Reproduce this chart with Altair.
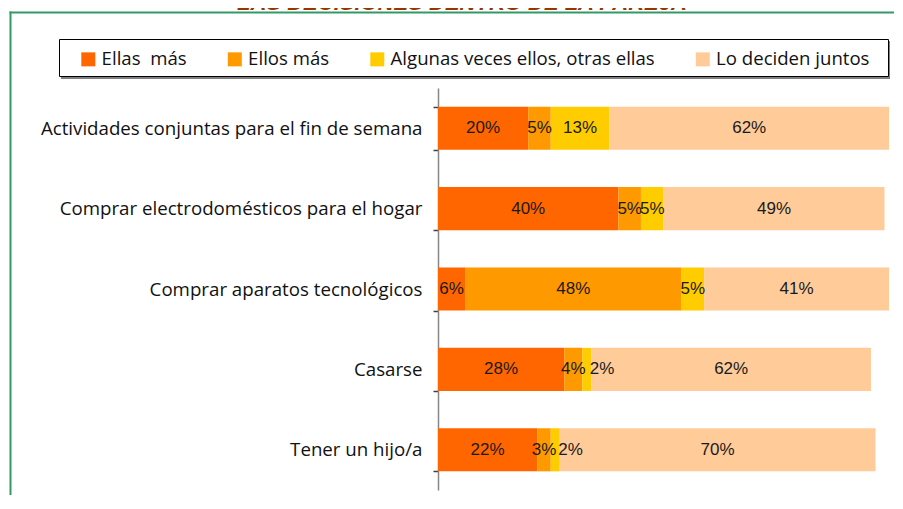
import altair as alt
import pandas as pd

# ---------------- data ----------------
title_text = "LAS DECISIONES DENTRO DE LA PAREJA"
categories = [
    "Actividades conjuntas para el fin de semana",
    "Comprar electrodomésticos para el hogar",
    "Comprar aparatos tecnológicos",
    "Casarse",
    "Tener un hijo/a",
]
series = ["Ellas  más", "Ellos más", "Algunas veces ellos, otras ellas", "Lo deciden juntos"]
ellas_mas = [20, 40, 6, 28, 22]
ellos_mas = [5, 5, 48, 4, 3]
algunas_veces = [13, 5, 5, 2, 2]
deciden_juntos = [62, 49, 41, 62, 70]
colors = ["#FF6600", "#FF9900", "#FFCC00", "#FFCC99"]

rows = []
for i, cat in enumerate(categories):
    start = 0
    for k, (s, vals) in enumerate(zip(series, [ellas_mas, ellos_mas, algunas_veces, deciden_juntos])):
        v = vals[i]
        rows.append(dict(cat=cat, serie=s, order=k, value=v, start=start,
                         end=start + v, mid=start + v / 2, label=f"{v}%"))
        start += v
df = pd.DataFrame(rows)
one = pd.DataFrame({"a": [0]})

TEXT_FONT = "Open Sans"

# ---------------- encodings ----------------
x_scale = alt.Scale(domain=[0, 100], nice=False, zero=True)
y_enc = alt.Y(
    "cat:N", sort=categories, title=None,
    scale=alt.Scale(paddingInner=0.464, paddingOuter=0.232),
    axis=alt.Axis(tickBand="extent", domainColor="#868686", domainWidth=1.5,
                  tickColor="#404040", tickSize=5, tickWidth=1.5, labelPadding=11,
                  labelFont=TEXT_FONT, labelFontSize=18.7, labelColor="#111111",
                  labelLimit=0, grid=False),
)

bars = alt.Chart(df).mark_bar(strokeWidth=0).encode(
    x=alt.X("start:Q", scale=x_scale, axis=None),
    x2="end:Q",
    y=y_enc,
    order=alt.Order("order:Q"),
    color=alt.Color(
        "serie:N", sort=series,
        scale=alt.Scale(domain=series, range=colors),
        legend=alt.Legend(
            orient="none", legendX=-359, legendY=-38, direction="horizontal",
            columns=4, gridAlign="each", title=None, symbolType="square",
            symbolSize=196, symbolStrokeWidth=0, symbolOpacity=1,
            labelFont=TEXT_FONT, labelFontSize=18.6, labelColor="#111111",
            labelOffset=4, columnPadding=38.5, padding=0, labelLimit=0,
            labelExpr="replace(datum.label, '  ', '\u00a0 ')",
        ),
    ),
)

labels_center = alt.Chart(df).transform_filter("datum.value > 2").mark_text(
    font="Liberation Sans", fontSize=17, color="#1a1a1a", align="center", baseline="middle"
).encode(x=alt.X("mid:Q", scale=x_scale, axis=None), y=y_enc, text="label:N")

labels_small = alt.Chart(df).transform_filter("datum.value <= 2").mark_text(
    font="Liberation Sans", fontSize=17, color="#1a1a1a", align="left", baseline="middle", dx=-1.5
).encode(x=alt.X("end:Q", scale=x_scale, axis=None), y=y_enc, text="label:N")

# ---------------- decorations ----------------
frame_top = alt.Chart(one).mark_rule(color="#339966", strokeWidth=2).encode(
    x=alt.value(-428.5), x2=alt.value(470), y=alt.value(-75.5))
frame_left = alt.Chart(one).mark_rule(color="#339966", strokeWidth=2).encode(
    x=alt.value(-427.5), y=alt.value(-76.5), y2=alt.value(430))
title = alt.Chart(one).mark_text(
    font="Liberation Sans", fontSize=22, fontWeight="bold", fontStyle="italic",
    color="#993300", align="center", baseline="alphabetic"
).encode(x=alt.value(24), y=alt.value(-78), text=alt.value(title_text))
box_shadow = alt.Chart(one).mark_rect(color="#808080").encode(
    x=alt.value(-377), x2=alt.value(452), y=alt.value(-47), y2=alt.value(-9))
box = alt.Chart(one).mark_rect(fill="white", stroke="black", strokeWidth=1).encode(
    x=alt.value(-378.5), x2=alt.value(450.5), y=alt.value(-48.5), y2=alt.value(-11.5))

chart = alt.layer(
    frame_top, frame_left, title, box_shadow, box, bars, labels_center, labels_small
).properties(
    width=451, height=402,
    padding={"left": 430, "top": 80, "right": 5, "bottom": 5},
    autosize=alt.AutoSizeParams(type="none"),
).configure_view(stroke=None)

chart.save("out.html", embed_options={"renderer": "svg", "actions": False})
